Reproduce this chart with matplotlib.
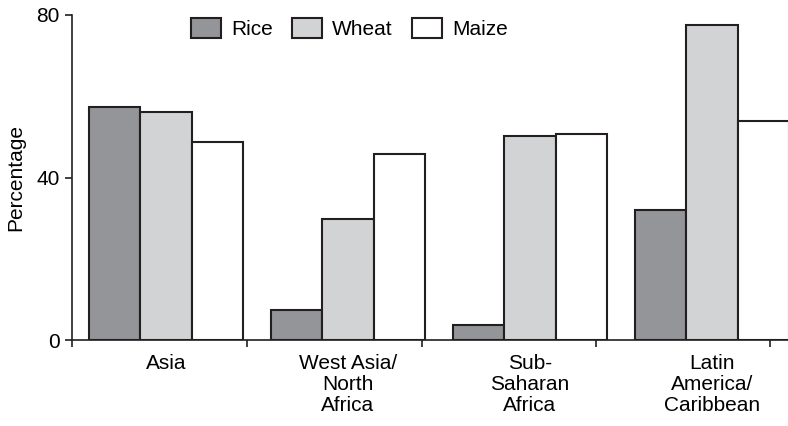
import numpy as np
import matplotlib.pyplot as plt
import matplotlib as mpl

mpl.rcParams.update({'font.size': 15, 'font.family': 'Liberation Sans'})

# values (percent)
regions = ['Asia', 'West Asia/\nNorth\nAfrica', 'Sub-\nSaharan\nAfrica', 'Latin\nAmerica/\nCaribbean']
rice = [57.4, 7.4, 3.7, 32.0]
wheat = [56.1, 29.8, 50.2, 77.6]
maize = [48.7, 45.8, 50.7, 53.9]
y_ticks = [0, 40, 80]

colors = ['#939598', '#d1d3d4', '#ffffff']
edge = '#231f20'

fig = plt.figure(figsize=(7.88, 4.26), dpi=100)
ax = fig.add_axes([72 / 788, 86 / 426, 728 / 788, 325 / 426])

x = np.arange(len(regions))
w = 0.283
for k, (vals, lab) in enumerate(zip([rice, wheat, maize], ['Rice', 'Wheat', 'Maize'])):
    ax.bar(x + (k - 1) * w, vals, width=w, color=colors[k], edgecolor=edge,
           linewidth=1.5, label=lab, zorder=2)

ax.set_xlim(-0.516, 3.484)
ax.set_ylim(0, 80)

ax.spines['top'].set_visible(False)
ax.spines['right'].set_visible(False)
for s in ['left', 'bottom']:
    ax.spines[s].set_color(edge)
    ax.spines[s].set_linewidth(1.2)

ax.set_yticks(y_ticks)
ax.tick_params(axis='y', length=5, width=1.2, color=edge, pad=4)

ax.set_xticks(x)
ax.set_xticklabels(regions, linespacing=1.15)
ax.tick_params(axis='x', which='major', length=0, pad=10)
ax.set_xticks([-0.516, 0.445, 1.407, 2.363, 3.319], minor=True)
ax.tick_params(axis='x', which='minor', length=5, width=1.2, color=edge)

ax.set_ylabel('Percentage', labelpad=8)

ax.legend(ncol=3, frameon=False, loc='upper center', bbox_to_anchor=(0.381, 1.015),
          handlelength=1.45, handleheight=1.05, handletextpad=0.5, columnspacing=0.9,
          borderaxespad=0)

fig.savefig('out.png', dpi=100)
